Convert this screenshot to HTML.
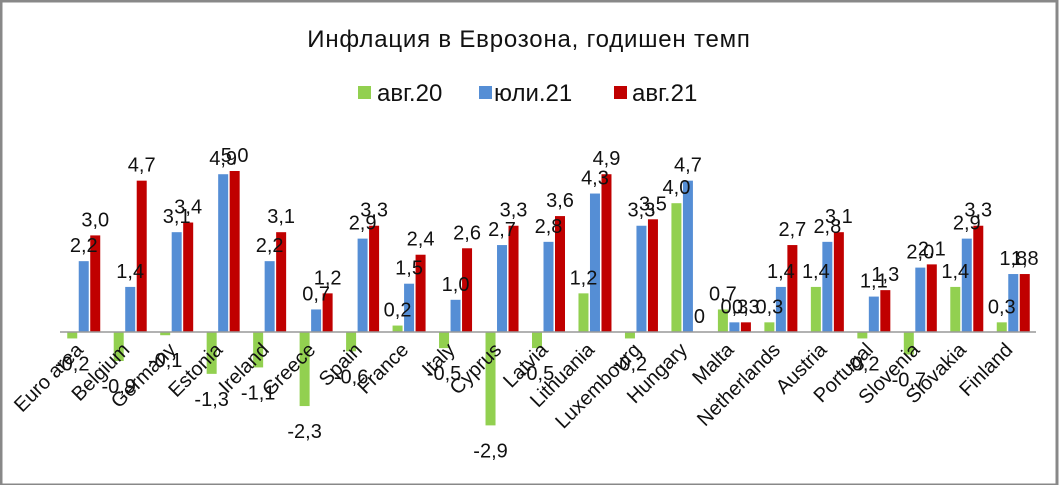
<!DOCTYPE html>
<html><head><meta charset="utf-8"><style>
body{margin:0;background:#fff}
svg{display:block;font-family:"Liberation Sans","DejaVu Sans",sans-serif}
</style></head><body>
<svg id="c" width="1060" height="485" viewBox="0 0 1060 485">
<rect x="1" y="1" width="1056" height="484" fill="#fff" stroke="#888" stroke-width="3"/>
<text x="529" y="47" text-anchor="middle" font-size="24" letter-spacing="0.8" fill="#111">Инфлация  в Еврозона, годишен темп</text>
<g>
<rect x="358" y="86" width="13" height="13" fill="#92d050"/>
<text x="377" y="101" font-size="24" fill="#111">авг.20</text>
<rect x="479" y="86" width="13" height="13" fill="#558ed5"/>
<text x="494" y="101" font-size="24" fill="#111">юли.21</text>
<rect x="614" y="86" width="13" height="13" fill="#c00000"/>
<text x="632" y="101" font-size="24" fill="#111">авг.21</text>
</g>
<g id="plot"></g>
</svg>
<script>
const categories=["Euro area","Belgium","Germany","Estonia","Ireland","Greece","Spain","France","Italy","Cyprus","Latvia","Lithuania","Luxembourg","Hungary","Malta","Netherlands","Austria","Portugal","Slovenia","Slovakia","Finland"];
const avg20=[-0.2,-0.9,-0.1,-1.3,-1.1,-2.3,-0.6,0.2,-0.5,-2.9,-0.5,1.2,-0.2,4.0,0.7,0.3,1.4,-0.2,-0.7,1.4,0.3];
const yuli21=[2.2,1.4,3.1,4.9,2.2,0.7,2.9,1.5,1.0,2.7,2.8,4.3,3.3,4.7,0.3,1.4,2.8,1.1,2.0,2.9,1.8];
const avg21=[3.0,4.7,3.4,5.0,3.1,1.2,3.3,2.4,2.6,3.3,3.6,4.9,3.5,0,0.3,2.7,3.1,1.3,2.1,3.3,1.8];
const seriesNames=["avg20","yuli21","avg21"];
const colors=["#92d050","#558ed5","#c00000"];
const NS="http://www.w3.org/2000/svg";
const plot=document.getElementById("plot");
const x0=60,x1=1036,zeroY=332,pxPerUnit=32.2;
const bw=(x1-x0)/categories.length;
function xCenter(i){return x0+bw*(i+0.5);}
function yScale(v){return zeroY-v*pxPerUnit;}
function fmt(v){return v===0?"0":v.toFixed(1).replace(".",",");}
const all=[avg20,yuli21,avg21];
const barW=10,offs=[-16,-4.5,7];
all.forEach((arr,s)=>{
  arr.forEach((v,i)=>{
    const cx=xCenter(i),x=cx+offs[s];
    const y=Math.min(yScale(v),zeroY),h=Math.abs(yScale(v)-zeroY);
    const r=document.createElementNS(NS,"rect");
    r.setAttribute("x",x);r.setAttribute("y",y);r.setAttribute("width",barW);r.setAttribute("height",h);
    r.setAttribute("fill",colors[s]);
    
    
    plot.appendChild(r);
  });
});
const ax=document.createElementNS(NS,"line");
ax.setAttribute("x1",x0);ax.setAttribute("x2",x1);ax.setAttribute("y1",zeroY);ax.setAttribute("y2",zeroY);
ax.setAttribute("stroke","#999");ax.setAttribute("stroke-width","1.5");


plot.appendChild(ax);
categories.forEach((c,i)=>{
  const cx=xCenter(i)+1,cy=351;
  const t=document.createElementNS(NS,"text");
  t.setAttribute("x",cx);t.setAttribute("y",cy);
  t.setAttribute("text-anchor","end");t.setAttribute("font-size","20");t.setAttribute("fill","#111");
  t.setAttribute("transform","rotate(-45 "+cx+" "+cy+")");
  t.textContent=c;
  
  
  plot.appendChild(t);
});
all.forEach((arr,s)=>{
  arr.forEach((v,i)=>{
    const cx=xCenter(i)+offs[s]+barW/2;
    const t=document.createElementNS(NS,"text");
    t.setAttribute("x",cx);
    t.setAttribute("y",v<0?yScale(v)+32:yScale(v)-9);
    t.setAttribute("text-anchor","middle");t.setAttribute("font-size","20");t.setAttribute("fill","#111");
    t.textContent=fmt(v);
    
    
    plot.appendChild(t);
  });
});
</script>
</body></html>
